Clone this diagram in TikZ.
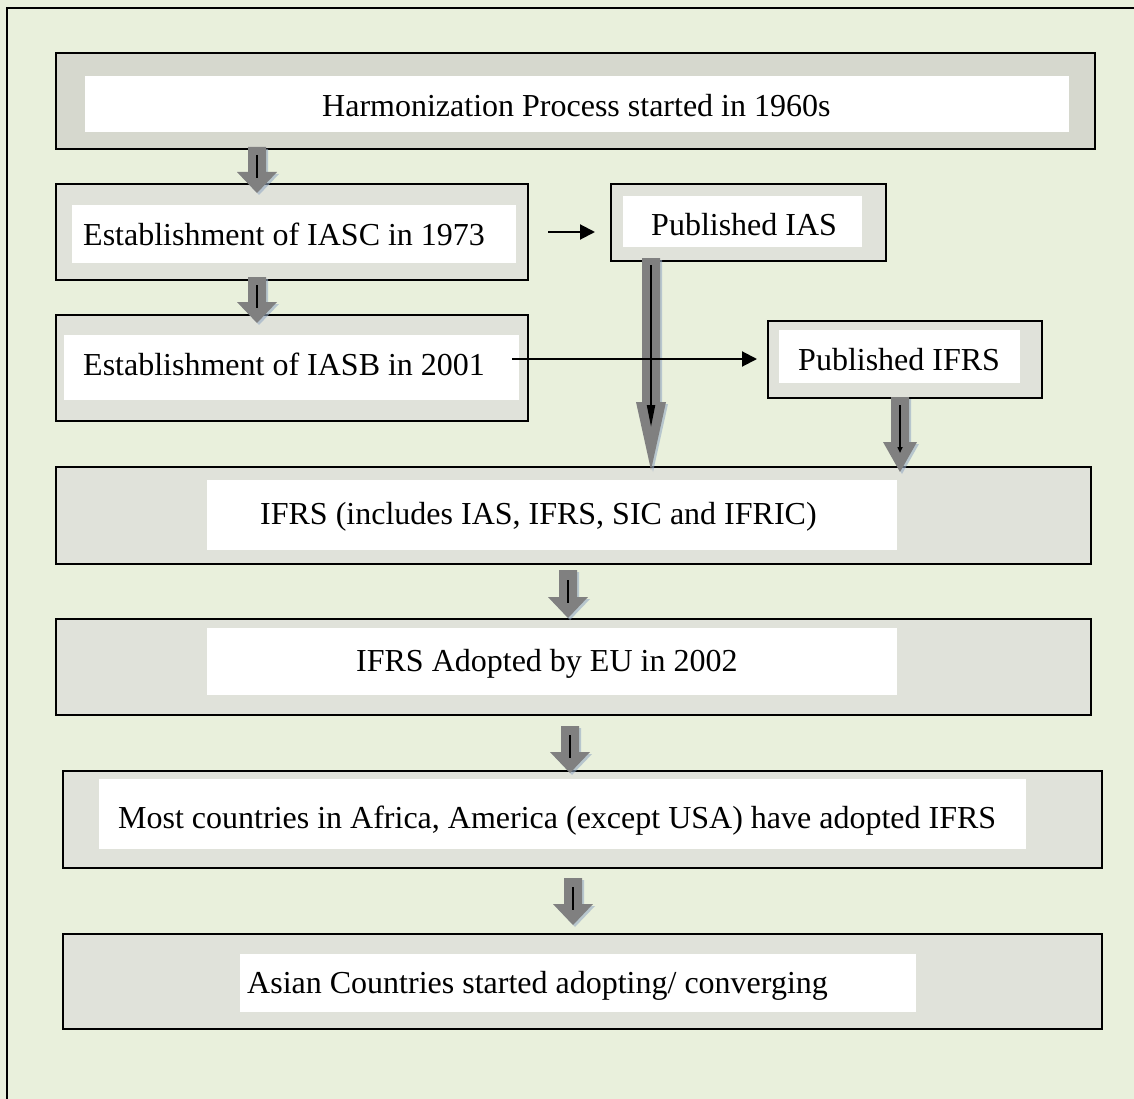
\documentclass[tikz,border=0pt]{standalone}
\usepackage{fontspec}
\setmainfont{Liberation Serif}
\usetikzlibrary{arrows.meta,fit}
\definecolor{bg}{RGB}{233,240,220}
\definecolor{boxA}{RGB}{214,216,206}
\definecolor{boxB}{RGB}{224,226,218}
\definecolor{agray}{RGB}{128,128,128}
\definecolor{ashadow}{RGB}{150,170,195}
\tikzset{
  frame/.style={draw=black, line width=2pt, fill=#1, inner sep=0pt, outer sep=0pt},
  whitebox/.style={fill=white, draw=none, inner sep=0pt, outer sep=0pt},
  lbl/.style={anchor=base west, inner sep=0pt, font=\fontsize{32}{38}\selectfont},
  thinarrow/.style={line width=2pt, -{Triangle[length=15pt,width=15pt]}},
  innerline/.style={line width=1.8pt},
}
% block arrow: x, ytop, yhead, ytip, half shaft, half head
\newcommand\blockarr[6]{%
  \fill[ashadow, opacity=0.6] ({#1-#5+2},{#2+2}) -- ({#1+#5+2},{#2+2}) -- ({#1+#5+2},{#3+2}) -- ({#1+#6+2},{#3+2}) -- ({#1+2},{#4+2}) -- ({#1-#6+2},{#3+2}) -- ({#1-#5+2},{#3+2}) -- cycle;
  \fill[agray] ({#1-#5},#2) -- ({#1+#5},#2) -- ({#1+#5},#3) -- ({#1+#6},#3) -- (#1,#4) -- ({#1-#6},#3) -- ({#1-#5},#3) -- cycle;}
\begin{document}
\begin{tikzpicture}[x=1pt,y=-1pt]
\fill[bg] (0,0) rectangle (1134,1099);
\useasboundingbox (0,0) rectangle (1134,1099);
\draw[line width=2pt] (7,1120) -- (7,8) -- (1150,8);

% boxes
\node[frame=boxA, fit={(56,53) (1095,149)}] (b1) {};
\node[whitebox, fit={(85,76) (1069,132)}] (w1) {};
\node[lbl] (t1) at (322,117) {Harmonization Process started in 1960s};

\node[frame=boxB, fit={(56,184) (528,280)}] (b2) {};
\node[whitebox, fit={(72,205) (516,263)}] (w2) {};
\node[lbl] (t2) at (83,246) {Establishment of IASC in 1973};

\node[frame=boxB, fit={(611,184) (886,261)}] (b3) {};
\node[whitebox, fit={(623,196) (862,247)}] (w3) {};
\node[lbl] (t3) at (651,236) {Published IAS};

\node[frame=boxB, fit={(56,315) (528,421)}] (b4) {};
\node[whitebox, fit={(64,335) (519,400)}] (w4) {};
\node[lbl] (t4) at (83,375) {Establishment of IASB in 2001};

\node[frame=boxB, fit={(768,321) (1042,398)}] (b5) {};
\node[whitebox, fit={(779,330) (1020,383)}] (w5) {};
\node[lbl] (t5) at (798,370) {Published IFRS};

\node[frame=boxB, fit={(56,467) (1091,564)}] (b6) {};
\node[whitebox, fit={(207,480) (897,550)}] (w6) {};
\node[lbl] (t6) at (260,524) {IFRS (includes IAS, IFRS, SIC and IFRIC)};

\node[frame=boxB, fit={(56,619) (1091,715)}] (b7) {};
\node[whitebox, fit={(207,628) (897,695)}] (w7) {};
\node[lbl] (t7) at (356,671) {IFRS Adopted by EU in 2002};

\node[frame=boxB, fit={(63,771) (1102,868)}] (b8) {};
\node[whitebox, fit={(99,779) (1026,849)}] (w8) {};
\node[lbl] (t8) at (118,828) {Most countries in Africa, America (except USA) have adopted IFRS};

\node[frame=boxB, fit={(63,934) (1102,1029)}] (b9) {};
\node[whitebox, fit={(240,954) (916,1012)}] (w9) {};
\node[lbl] (t9) at (247,993) {Asian Countries started adopting/ converging};

% block arrows
\blockarr{257}{147}{172}{193}{9}{20}
\draw[innerline] (257,155) -- (257,178);
\blockarr{257}{277}{302}{323}{9}{20}
\draw[innerline] (257,285) -- (257,308);

\blockarr{651}{258}{402}{470}{9}{15}
\draw[line width=2pt, -{Triangle[length=22pt,width=8pt]}] (651,265) -- (651,427);

\blockarr{900}{397}{442}{472}{9}{17}
\draw[line width=1.6pt, -{Triangle[length=6pt,width=5pt]}] (900,405) -- (900,453);

\blockarr{568}{570}{597}{618}{9}{20}
\draw[innerline] (568,580) -- (568,603);
\blockarr{570}{726}{752}{773}{9}{20}
\draw[innerline] (570,735) -- (570,758);
\blockarr{573}{878}{904}{925}{9}{20}
\draw[innerline] (573,887) -- (573,910);

% thin arrows
\coordinate (a1s) at (548,232);
\draw[thinarrow, shorten >=16pt] (a1s) -- (b3.west |- a1s);
\coordinate (a2s) at (512,359);
\draw[thinarrow, shorten >=11pt] (a2s) -- (b5.west |- a2s);
\end{tikzpicture}
\end{document}
